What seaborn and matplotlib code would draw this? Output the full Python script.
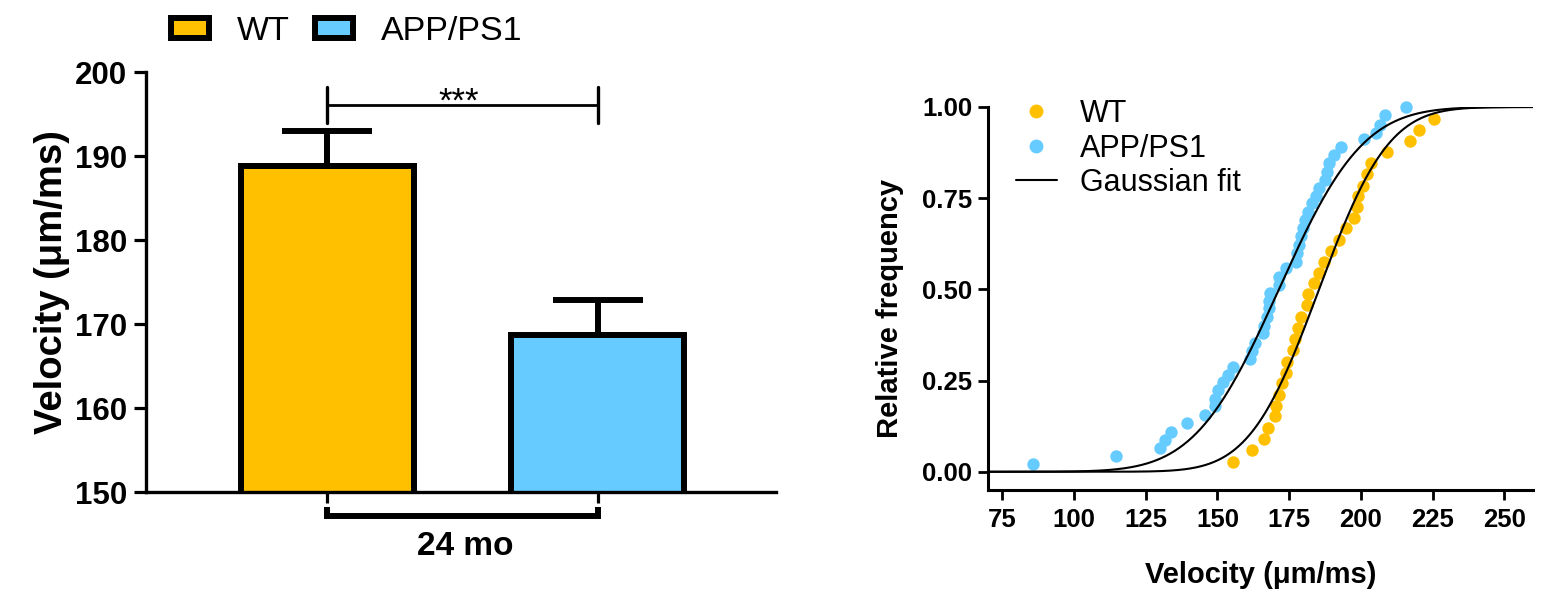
import math
import numpy as np
import pandas as pd
import seaborn as sns
import matplotlib
matplotlib.use("Agg")
import matplotlib.pyplot as plt
from matplotlib.patches import Patch
from matplotlib.lines import Line2D

# --- data ---
groups = ['WT', 'APP/PS1']
group_colors = ['#FFC000', '#66CCFF']
mean_velocity = [188.8, 168.7]
sem_velocity = [4.2, 4.2]

wt_velocity = [155.3, 161.9, 166.3, 167.6, 170.0, 170.3, 171.5, 172.4, 173.8, 174.4,
               176.5, 177.1, 178.0, 179.0, 181.3, 181.7, 183.8, 185.4, 187.1, 189.6,
               192.3, 194.9, 197.7, 198.7, 199.0, 200.7, 202.0, 203.5, 209.1, 217.1,
               220.1, 225.4]
wt_freq = [0.028, 0.060, 0.089, 0.120, 0.152, 0.179, 0.210, 0.243, 0.272, 0.302,
           0.334, 0.364, 0.394, 0.424, 0.458, 0.488, 0.517, 0.546, 0.576, 0.605,
           0.636, 0.668, 0.697, 0.725, 0.755, 0.784, 0.816, 0.847, 0.878, 0.908,
           0.937, 0.966]

app_velocity = [85.7, 114.5, 129.9, 131.6, 133.7, 139.4, 145.7, 149.2, 149.0, 150.1,
                151.8, 153.6, 155.3, 161.3, 162.2, 163.0, 165.7, 166.3, 167.2, 168.0,
                168.0, 168.4, 171.5, 171.5, 173.8, 177.3, 177.6, 178.4, 179.0, 179.9,
                180.4, 181.6, 183.1, 184.2, 185.4, 187.4, 188.3, 188.8, 190.6, 192.9,
                201.0, 205.4, 206.7, 208.5, 215.8]
app_freq = [0.022, 0.044, 0.065, 0.088, 0.110, 0.133, 0.156, 0.179, 0.200, 0.225,
            0.247, 0.266, 0.287, 0.309, 0.330, 0.352, 0.380, 0.400, 0.425, 0.448,
            0.467, 0.490, 0.512, 0.535, 0.558, 0.576, 0.599, 0.622, 0.645, 0.668,
            0.690, 0.713, 0.736, 0.756, 0.777, 0.800, 0.823, 0.846, 0.868, 0.889,
            0.912, 0.930, 0.951, 0.978, 1.000]

# gaussian fit (mean, sd)
wt_fit = (185.4, 19.0)
app_fit = (171.4, 23.0)

x_ticks = [75, 100, 125, 150, 175, 200, 225, 250]
y_ticks = [0.0, 0.25, 0.5, 0.75, 1.0]

sns.set_style("ticks")
plt.rcParams['font.family'] = ['Liberation Sans', 'DejaVu Sans']
plt.rcParams.update({'text.color': 'black', 'axes.labelcolor': 'black',
                     'xtick.color': 'black', 'ytick.color': 'black',
                     'axes.edgecolor': 'black'})

W, H = 1546, 594
fig = plt.figure(figsize=(W / 100, H / 100), dpi=100)
ax1 = fig.add_axes([145.7 / W, 102 / H, 630.3 / W, 420 / H])
ax2 = fig.add_axes([988 / W, 104 / H, 545 / W, 383 / H])

# ---------- left: bar chart ----------
bar_df = pd.DataFrame({'group': groups, 'velocity': mean_velocity})
sns.barplot(data=bar_df, x='group', y='velocity', hue='group', palette=group_colors,
            saturation=1, width=0.64, edgecolor='black', linewidth=4.3, legend=False,
            ax=ax1, zorder=2)
ax1.errorbar([0, 1], mean_velocity, yerr=[[0, 0], sem_velocity], fmt='none',
             ecolor='black', elinewidth=4.3, capsize=32.4, capthick=4.3, zorder=1)

ax1.set_xlim(-0.671, 1.66)
ax1.set_ylim(150, 200)
ax1.set_yticks(range(150, 201, 10))
ax1.set_xticks([0, 1])
ax1.set_xticklabels(['', ''])
ax1.set_xlabel('')
ax1.tick_params(axis='y', length=8.6, width=2.3, labelsize=22.5, pad=5)
ax1.tick_params(axis='x', length=8, width=2.3)
for lab in ax1.get_yticklabels():
    lab.set_fontweight('bold')
for side in ['left', 'bottom']:
    ax1.spines[side].set_linewidth(2.4)
sns.despine(ax=ax1)
ax1.set_ylabel('Velocity (μm/ms)', fontsize=27.5, fontweight='bold')
ax1.yaxis.set_label_coords(-0.12, 0.5)

# significance bracket
ax1.plot([0, 1], [196.1, 196.1], color='black', lw=2.0, clip_on=False)
ax1.plot([0, 0], [193.9, 198.25], color='black', lw=2.4, clip_on=False)
ax1.plot([1, 1], [193.9, 198.25], color='black', lw=2.4, clip_on=False)
ax1.text(0.487, 195.3, '***', ha='center', va='baseline', fontsize=25)

# group bracket under the axis
tr = ax1.get_xaxis_transform()
ax1.plot([0, 0, 1, 1], [-0.036, -0.058, -0.058, -0.036], color='black', lw=4.3,
         transform=tr, clip_on=False, solid_joinstyle='miter', solid_capstyle='butt')
ax1.text(0.51, -0.15, '24 mo', transform=tr, ha='center', va='baseline',
         fontsize=24, fontweight='bold')

fig.legend(handles=[Patch(facecolor=c, edgecolor='black', linewidth=4.3, label=g)
                    for g, c in zip(groups, group_colors)],
           loc='upper left', bbox_to_anchor=(171 / W, 1 - 16 / H), ncol=2,
           frameon=False, fontsize=24.5, handlelength=1.12, handleheight=0.55,
           handletextpad=0.82, columnspacing=0.73, borderpad=0, borderaxespad=0)

# ---------- right: cumulative distribution ----------
def gauss_cdf(xs, mu, sd):
    return np.array([0.5 * (1 + math.erf((v - mu) / (sd * math.sqrt(2)))) for v in xs])

xs = np.linspace(70, 260, 500)
sns.scatterplot(x=wt_velocity, y=wt_freq, color=group_colors[0], s=80, linewidth=0,
                ax=ax2, clip_on=False, zorder=3)
sns.scatterplot(x=app_velocity, y=app_freq, color=group_colors[1], s=80, linewidth=0,
                ax=ax2, clip_on=False, zorder=3)
sns.lineplot(x=xs, y=gauss_cdf(xs, *wt_fit), color='black', lw=1.5, ax=ax2, zorder=4)
sns.lineplot(x=xs, y=gauss_cdf(xs, *app_fit), color='black', lw=1.5, ax=ax2, zorder=4)

ax2.set_xlim(70, 260)
ax2.set_ylim(-0.05, 1.0)
ax2.set_xticks(x_ticks)
ax2.set_yticks(y_ticks)
ax2.set_yticklabels(['%.2f' % v for v in y_ticks])
ax2.tick_params(axis='both', length=7, width=2.0, labelsize=18.5)
ax2.tick_params(axis='y', pad=4.3)
ax2.tick_params(axis='x', pad=6)
for lab in ax2.get_xticklabels() + ax2.get_yticklabels():
    lab.set_fontweight('bold')
for side in ['left', 'bottom']:
    ax2.spines[side].set_linewidth(2.2)
sns.despine(ax=ax2)
ax2.set_xlabel('Velocity (μm/ms)', fontsize=21, fontweight='bold', va='top')
ax2.xaxis.set_label_coords(0.5, -0.185)
ax2.set_ylabel('Relative frequency', fontsize=21, fontweight='bold')
ax2.yaxis.set_label_coords(-0.154, 0.475)

ax2.legend(handles=[
    Line2D([], [], marker='o', ls='none', color=group_colors[0], markersize=9, label='WT'),
    Line2D([], [], marker='o', ls='none', color=group_colors[1], markersize=9, label='APP/PS1'),
    Line2D([], [], color='black', lw=1.5, label='Gaussian fit')],
    loc='upper left', bbox_to_anchor=(1016 / W, 1 - 99 / H), bbox_transform=fig.transFigure,
    frameon=False, fontsize=22, handlelength=1.34, handletextpad=0.75,
    labelspacing=0.15, borderpad=0, borderaxespad=0)

fig.savefig('out.png', dpi=100)
